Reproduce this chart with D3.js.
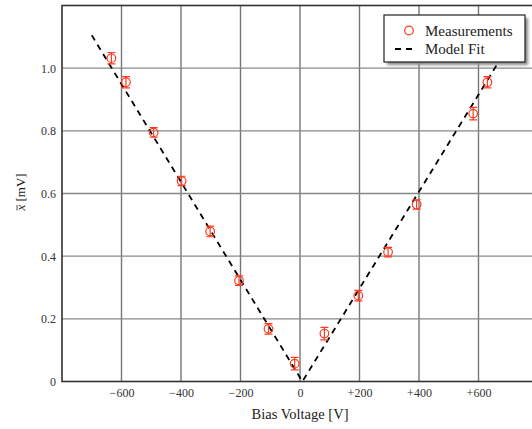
<!DOCTYPE html>
<html>
<head>
<meta charset="utf-8">
<script src="https://cdn.jsdelivr.net/npm/d3@7"></script>
<style>
  body { margin: 0; background: #fff; }
  svg { display: block; }
  svg text { font-family: "Liberation Serif", serif; fill: #222; }
</style>
</head>
<body>
<div id="chart-area"></div>
<script>
// measured points
const biasVolts = [-634, -585, -492, -398, -302, -205, -106, -18, 82, 196, 296, 392, 582, 630];
const meanValues = [1.032, 0.955, 0.795, 0.640, 0.479, 0.322, 0.168, 0.057, 0.153, 0.274, 0.413, 0.565, 0.855, 0.955];
const errValues = [0.018, 0.018, 0.015, 0.015, 0.017, 0.015, 0.017, 0.020, 0.020, 0.017, 0.015, 0.015, 0.020, 0.018];

// model fit (V shape)
const fitVolts = [-700, 8, 700];
const fitValues = [1.105, 0, 1.07];

const xTicks = [-600, -400, -200, 0, 200, 400, 600];
const yTicks = [0, 0.2, 0.4, 0.6, 0.8, 1.0];

const svgWidth = 532, svgHeight = 429;
const margin = {left: 62, right: -6, top: 5.5, bottom: 47.5};
const areaWidth = svgWidth - margin.left - margin.right;
const areaHeight = svgHeight - margin.top - margin.bottom;

const svg = d3.select("#chart-area")
	.append("svg")
	.attr("width", svgWidth)
	.attr("height", svgHeight);

const defs = svg.append("defs");
defs.append("clipPath").attr("id", "plot-clip")
	.append("rect").attr("width", areaWidth).attr("height", areaHeight);
const blur = defs.append("filter").attr("id", "shadow-blur")
	.attr("x", "-20%").attr("y", "-20%").attr("width", "140%").attr("height", "140%");
blur.append("feGaussianBlur").attr("stdDeviation", 1.5);

const area = svg.append("g")
	.attr("transform", `translate(${margin.left}, ${margin.top})`);

const x = d3.scaleLinear().domain([-800, 800]).range([0, areaWidth]);
const y = d3.scaleLinear().domain([0, 1.2]).range([areaHeight, 0]);

// grid
area.append("g").selectAll("line").data(xTicks).join("line")
	.attr("x1", d => x(d)).attr("x2", d => x(d))
	.attr("y1", 0).attr("y2", areaHeight)
	.attr("stroke", "#777").attr("stroke-width", 1.4);
area.append("g").selectAll("line").data(yTicks.filter(d => d > 0)).join("line")
	.attr("x1", 0).attr("x2", areaWidth)
	.attr("y1", d => y(d)).attr("y2", d => y(d))
	.attr("stroke", "#888").attr("stroke-width", 1.4);

// axes (labels only)
const fmtX = d => d === 0 ? "0" : (d > 0 ? "+" + d : "\u2212" + Math.abs(d));
const fmtY = d => d === 0 ? "0" : d.toFixed(1);

const xAxisGroup = area.append("g")
	.attr("transform", `translate(0, ${areaHeight})`)
	.call(d3.axisBottom(x).tickValues(xTicks).tickFormat(fmtX).tickSize(0).tickPadding(7));
const yAxisGroup = area.append("g")
	.call(d3.axisLeft(y).tickValues(yTicks).tickFormat(fmtY).tickSize(0).tickPadding(6));
[xAxisGroup, yAxisGroup].forEach(g => {
	g.select(".domain").remove();
	g.attr("font-family", null);
	g.selectAll("text").style("font-size", "12px").style("fill", "#333");
});

// frame
area.append("rect")
	.attr("width", areaWidth).attr("height", areaHeight)
	.attr("fill", "none").attr("stroke", "#333").attr("stroke-width", 1.6);

const plot = area.append("g").attr("clip-path", "url(#plot-clip)");

// model fit
const fitData = fitVolts.map((v, i) => ({v: v, m: fitValues[i]}));
const line = d3.line()
	.x(d => x(d.v))
	.y(d => y(d.m));
plot.append("path")
	.attr("d", line(fitData))
	.attr("fill", "none")
	.attr("stroke", "#000")
	.attr("stroke-width", 1.8)
	.attr("stroke-dasharray", "6,5");

// measurements
const red = "#ff3b1f";
const pts = biasVolts.map((v, i) => ({v: v, m: meanValues[i], e: errValues[i]}));
const marks = plot.append("g").selectAll("g").data(pts).join("g");
marks.append("line")
	.attr("x1", d => x(d.v)).attr("x2", d => x(d.v))
	.attr("y1", d => y(d.m - d.e)).attr("y2", d => y(d.m + d.e))
	.attr("stroke", red).attr("stroke-width", 1.2);
marks.selectAll("line.cap").data(d => [[d.v, d.m - d.e], [d.v, d.m + d.e]]).join("line")
	.attr("class", "cap")
	.attr("x1", d => x(d[0]) - 4).attr("x2", d => x(d[0]) + 4)
	.attr("y1", d => y(d[1])).attr("y2", d => y(d[1]))
	.attr("stroke", red).attr("stroke-width", 1.2);
marks.append("circle")
	.attr("cx", d => x(d.v)).attr("cy", d => y(d.m))
	.attr("r", 4.3)
	.attr("fill", "none").attr("stroke", red).attr("stroke-width", 1.2);

// axis labels
svg.append("text")
	.attr("x", 300).attr("y", 419)
	.attr("text-anchor", "middle")
	.style("font-size", "14.5px")
	.text("Bias Voltage [V]");

const yLab = svg.append("g").attr("transform", "translate(25, 192) rotate(-90)");
yLab.append("text")
	.attr("text-anchor", "middle")
	.style("font-size", "13px")
	.html('<tspan font-style="italic">x</tspan> [mV]');
yLab.append("line")
	.attr("x1", -18.5).attr("x2", -13).attr("y1", -8).attr("y2", -8)
	.attr("stroke", "#222").attr("stroke-width", 0.8);

// legend
const legend = svg.append("g").attr("transform", "translate(384, 15)");
legend.append("rect")
	.attr("x", 3).attr("y", 3).attr("width", 141).attr("height", 47)
	.attr("fill", "#888").attr("filter", "url(#shadow-blur)");
legend.append("rect")
	.attr("width", 141).attr("height", 47)
	.attr("fill", "#fff").attr("stroke", "#222").attr("stroke-width", 1.2);
legend.append("circle")
	.attr("cx", 25).attr("cy", 15.5).attr("r", 4.3)
	.attr("fill", "none").attr("stroke", red).attr("stroke-width", 1.2);
legend.append("line")
	.attr("x1", 11).attr("x2", 29).attr("y1", 34).attr("y2", 34)
	.attr("stroke", "#000").attr("stroke-width", 1.8).attr("stroke-dasharray", "6,5");
legend.append("text").attr("x", 41).attr("y", 20.5).style("font-size", "15px").text("Measurements");
legend.append("text").attr("x", 41).attr("y", 39).style("font-size", "15px").text("Model Fit");
</script>
</body>
</html>
